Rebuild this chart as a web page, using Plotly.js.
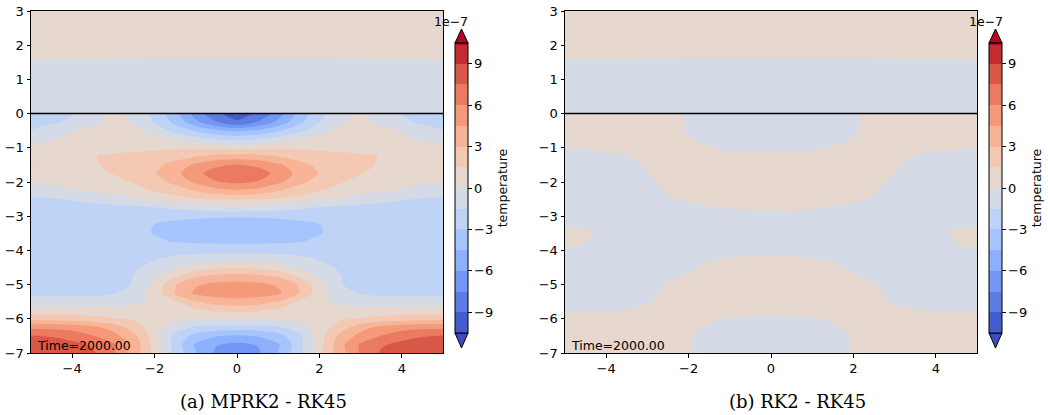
<!DOCTYPE html>
<html><head><meta charset="utf-8">
<script src="https://cdn.plot.ly/plotly-3.0.1.min.js"></script>
<style>html,body{margin:0;padding:0;background:#fff}#chart{width:1048px;height:415px}</style>
</head><body><div id="chart"></div>
<script>
// ---------- data (values in units of 1e-7) ----------
const xGrid = [-5,-4.5,-4,-3.5,-3,-2.5,-2,-1.5,-1,-0.5,0,0.5,1,1.5,2,2.5,3,3.5,4,4.5,5];

// lower layer, panel (a) MPRK2 - RK45, rows from y=0 down to y=-7
const yLowerA = [0,-0.25,-0.5,-0.75,-1,-1.25,-1.5,-1.75,-2,-2.25,-2.5,-2.75,-3,-3.25,-3.5,-3.75,-4,-4.25,-4.5,-4.75,-5,-5.25,-5.5,-5.75,-6,-6.25,-6.5,-6.75,-7];
const mprkLower = [
 [-2.2,-2.0,-1.6,-0.8,0.35,-0.3,-2.0,-4.1,-6.8,-8.8,-9.6,-8.8,-6.8,-4.1,-2.0,-0.3,0.35,-0.8,-1.6,-2.0,-2.2],
 [-2.0,-1.7,-1.2,-0.3,0.4,-0.2,-1.55,-3.4,-5.6,-7.4,-8.8,-7.4,-5.6,-3.4,-1.55,-0.2,0.4,-0.3,-1.2,-1.7,-2.0],
 [-1.45,-0.9,-0.1,0.4,0.7,0.4,-0.6,-1.9,-3.2,-4.2,-4.7,-4.2,-3.2,-1.9,-0.6,0.4,0.7,0.4,-0.1,-0.9,-1.45],
 [-0.3,-0.1,0.4,0.7,0.9,0.9,0.5,-0.1,-0.8,-1.6,-1.9,-1.6,-0.8,-0.1,0.5,0.9,0.9,0.7,0.4,-0.1,-0.3],
 [0.45,0.5,0.7,0.9,1.0,1.2,1.3,1.3,1.3,1.1,0.9,1.1,1.3,1.3,1.3,1.2,1.0,0.9,0.7,0.5,0.45],
 [1.2,1.15,1.25,1.45,1.7,1.8,1.9,2.3,2.9,3.5,3.7,3.5,2.9,2.3,1.9,1.8,1.7,1.45,1.25,1.15,1.2],
 [1.55,1.4,1.3,1.4,1.7,2.0,2.6,3.6,4.8,5.7,6.1,5.7,4.8,3.6,2.6,2.0,1.7,1.4,1.3,1.4,1.55],
 [0.9,0.9,1.0,1.2,1.55,2.1,2.9,4.1,5.5,6.8,7.2,6.8,5.5,4.1,2.9,2.1,1.55,1.2,1.0,0.9,0.9],
 [0.15,0.2,0.4,0.7,1.1,1.6,2.4,3.4,4.8,5.9,6.3,5.9,4.8,3.4,2.4,1.6,1.1,0.7,0.4,0.2,0.15],
 [-0.8,-0.5,-0.1,0.15,0.5,1.0,1.6,2.3,3.1,4.0,4.3,4.0,3.1,2.3,1.6,1.0,0.5,0.15,-0.1,-0.5,-0.8],
 [-1.8,-1.6,-1.3,-0.9,-0.5,-0.1,0.4,0.9,1.4,1.6,1.7,1.6,1.4,0.9,0.4,-0.1,-0.5,-0.9,-1.3,-1.6,-1.8],
 [-2.3,-2.3,-2.3,-2.2,-2.1,-1.9,-1.6,-1.2,-0.8,-0.5,-0.4,-0.5,-0.8,-1.2,-1.6,-1.9,-2.1,-2.2,-2.3,-2.3,-2.3],
 [-2.3,-2.3,-2.3,-2.3,-2.35,-2.4,-2.55,-2.7,-2.8,-2.88,-2.9,-2.88,-2.8,-2.7,-2.55,-2.4,-2.35,-2.3,-2.3,-2.3,-2.3],
 [-2.3,-2.3,-2.35,-2.4,-2.5,-2.78,-3.02,-3.3,-3.47,-3.57,-3.6,-3.57,-3.47,-3.3,-3.02,-2.78,-2.5,-2.4,-2.35,-2.3,-2.3],
 [-2.3,-2.3,-2.35,-2.4,-2.55,-2.8,-3.04,-3.4,-3.58,-3.67,-3.7,-3.67,-3.58,-3.4,-3.04,-2.8,-2.55,-2.4,-2.35,-2.3,-2.3],
 [-2.3,-2.3,-2.35,-2.4,-2.5,-2.65,-2.85,-3.05,-3.2,-3.27,-3.3,-3.27,-3.2,-3.05,-2.85,-2.65,-2.5,-2.4,-2.35,-2.3,-2.3],
 [-2.3,-2.3,-2.3,-2.35,-2.35,-2.3,-2.2,-2.1,-2.05,-2.0,-2.0,-2.0,-2.05,-2.1,-2.2,-2.3,-2.35,-2.35,-2.3,-2.3,-2.3],
 [-2.3,-2.3,-2.3,-2.3,-2.25,-2.0,-1.6,-1.1,-0.8,-0.65,-0.6,-0.65,-0.8,-1.1,-1.6,-2.0,-2.25,-2.3,-2.3,-2.3,-2.3],
 [-2.3,-2.3,-2.3,-2.3,-2.1,-1.65,-1.1,-0.3,0.6,1.2,1.4,1.2,0.6,-0.3,-1.1,-1.65,-2.1,-2.3,-2.3,-2.3,-2.3],
 [-2.3,-2.3,-2.3,-2.3,-2.1,-1.45,-0.2,1.2,2.8,3.3,3.5,3.3,2.8,1.2,-0.2,-1.45,-2.1,-2.3,-2.3,-2.3,-2.3],
 [-2.3,-2.3,-2.3,-2.3,-2.1,-1.4,0.4,2.9,4.3,4.9,5.0,4.9,4.3,2.9,0.4,-1.4,-2.1,-2.3,-2.3,-2.3,-2.3],
 [-1.9,-1.9,-1.9,-1.95,-1.6,-0.8,0.6,3.1,4.8,5.15,5.3,5.15,4.8,3.1,0.6,-0.8,-1.6,-1.95,-1.9,-1.9,-1.9],
 [-0.8,-0.8,-0.75,-0.7,-0.6,-0.3,0.3,1.2,2.9,3.75,4.0,3.75,2.9,1.2,0.3,-0.3,-0.6,-0.7,-0.75,-0.8,-0.8],
 [0.6,0.6,0.6,0.6,0.6,0.55,0.5,0.7,1.25,1.7,1.9,1.7,1.25,0.7,0.5,0.55,0.6,0.6,0.6,0.6,0.6],
 [2.6,2.5,2.3,2.0,1.6,1.3,0.9,0.5,0.3,0.2,0.2,0.2,0.3,0.5,0.9,1.3,1.6,2.0,2.3,2.5,2.6],
 [5.6,5.6,5.4,4.9,3.9,2.2,0.6,-0.8,-1.7,-2.1,-2.2,-2.1,-1.7,-0.8,0.6,2.2,3.9,4.9,5.4,5.6,5.6],
 [7.6,7.4,6.9,6.05,5.0,3.4,0.8,-1.9,-3.6,-4.4,-4.7,-4.4,-3.6,-1.9,0.8,3.4,5.0,6.05,6.9,7.4,7.6],
 [8.1,8.1,7.9,7.3,6.2,4.0,0.9,-2.1,-4.7,-5.9,-6.35,-5.9,-4.7,-2.1,0.9,4.0,6.2,7.3,7.9,8.1,8.1],
 [8.4,8.5,8.3,7.7,6.2,3.8,1.1,-1.9,-4.45,-6.3,-6.9,-6.3,-4.45,-1.9,1.1,3.8,6.2,7.7,8.3,8.5,8.4]
];

// lower layer, panel (b) RK2 - RK45, rows from y=0 down to y=-7
const yLowerB = [0,-0.5,-1,-1.5,-2,-2.5,-3,-3.5,-4,-4.5,-5,-5.5,-6,-6.5,-7];
const rk2Lower = [
 [0.6,0.6,0.6,0.6,0.6,0.4,-0.15,-0.5,-0.6,-0.6,-0.6,-0.6,-0.6,-0.5,-0.15,0.4,0.6,0.6,0.6,0.6,0.6],
 [0.35,0.35,0.4,0.45,0.5,0.4,-0.12,-0.45,-0.55,-0.55,-0.55,-0.55,-0.55,-0.45,-0.12,0.4,0.5,0.45,0.4,0.35,0.35],
 [0.05,0.05,0.1,0.2,0.35,0.4,0.25,0.05,-0.08,-0.1,-0.1,-0.1,-0.08,0.05,0.25,0.4,0.35,0.2,0.1,0.05,0.05],
 [-0.4,-0.4,-0.35,-0.2,0.1,0.3,0.4,0.4,0.4,0.4,0.4,0.4,0.4,0.4,0.4,0.3,0.1,-0.2,-0.35,-0.4,-0.4],
 [-0.4,-0.4,-0.4,-0.3,-0.1,0.15,0.3,0.35,0.4,0.4,0.4,0.4,0.4,0.35,0.3,0.15,-0.1,-0.3,-0.4,-0.4,-0.4],
 [-0.4,-0.4,-0.4,-0.35,-0.2,-0.05,0.07,0.15,0.2,0.25,0.25,0.25,0.2,0.15,0.07,-0.05,-0.2,-0.35,-0.4,-0.4,-0.4],
 [-0.25,-0.25,-0.3,-0.35,-0.4,-0.35,-0.3,-0.2,-0.15,-0.1,-0.1,-0.1,-0.15,-0.2,-0.3,-0.35,-0.4,-0.35,-0.3,-0.25,-0.25],
 [0.15,0.1,-0.15,-0.3,-0.35,-0.4,-0.4,-0.4,-0.4,-0.4,-0.4,-0.4,-0.4,-0.4,-0.4,-0.4,-0.35,-0.3,-0.15,0.1,0.15],
 [-0.02,-0.08,-0.3,-0.35,-0.4,-0.35,-0.3,-0.25,-0.2,-0.15,-0.15,-0.15,-0.2,-0.25,-0.3,-0.35,-0.4,-0.35,-0.3,-0.08,-0.02],
 [-0.3,-0.35,-0.4,-0.4,-0.4,-0.3,-0.1,0.12,0.25,0.3,0.3,0.3,0.25,0.12,-0.1,-0.3,-0.4,-0.4,-0.4,-0.35,-0.3],
 [-0.4,-0.4,-0.4,-0.35,-0.25,0.03,0.2,0.35,0.4,0.4,0.4,0.4,0.4,0.35,0.2,0.03,-0.25,-0.35,-0.4,-0.4,-0.4],
 [-0.25,-0.25,-0.25,-0.2,-0.05,0.2,0.3,0.35,0.35,0.3,0.3,0.3,0.35,0.35,0.3,0.2,-0.05,-0.2,-0.25,-0.25,-0.25],
 [0.15,0.15,0.2,0.25,0.3,0.3,0.25,0.1,-0.03,-0.05,-0.05,-0.05,-0.03,0.1,0.25,0.3,0.3,0.25,0.2,0.15,0.15],
 [0.45,0.45,0.45,0.45,0.45,0.35,0.06,-0.25,-0.35,-0.4,-0.4,-0.4,-0.35,-0.25,0.06,0.35,0.45,0.45,0.45,0.45,0.45],
 [0.5,0.5,0.5,0.5,0.5,0.4,0.06,-0.3,-0.45,-0.5,-0.5,-0.5,-0.45,-0.3,0.06,0.4,0.5,0.5,0.5,0.5,0.5]
];

// upper layer (same in both panels), rows from y=0 up to y=3
const xUpper = [-5,-2.5,0,2.5,5];
const yUpper = [0,1.5,1.7,3];
const upperField = [
 [-0.6,-0.6,-0.6,-0.6,-0.6],
 [-0.35,-0.5,-0.65,-0.5,-0.35],
 [0.65,0.5,0.35,0.5,0.65],
 [0.6,0.6,0.6,0.6,0.6]
];

const levelStart = -10.5, levelEnd = 10.5, levelStep = 1.5;
const cbTicks = [-9,-6,-3,0,3,6,9];
const xTicks = [-4,-2,0,2,4];
const yTicks = [-7,-6,-5,-4,-3,-2,-1,0,1,2,3];
const captions = ['(a) MPRK2 - RK45', '(b) RK2 - RK45'];
const timeLabel = 'Time=2000.00';
const cbLabel = 'temperature';
const cbExponent = '1e\u22127';

// ---------- style ----------
const coolwarm = [
 [0,'rgb(59,76,192)'],[0.03125,'rgb(68,90,204)'],[0.0625,'rgb(77,104,215)'],[0.09375,'rgb(87,117,225)'],
 [0.125,'rgb(98,130,234)'],[0.15625,'rgb(108,142,241)'],[0.1875,'rgb(119,154,247)'],[0.21875,'rgb(130,165,251)'],
 [0.25,'rgb(141,176,254)'],[0.28125,'rgb(152,185,255)'],[0.3125,'rgb(163,194,255)'],[0.34375,'rgb(174,201,253)'],
 [0.375,'rgb(184,208,249)'],[0.40625,'rgb(194,213,244)'],[0.4375,'rgb(204,217,238)'],[0.46875,'rgb(213,219,230)'],
 [0.5,'rgb(221,221,221)'],[0.53125,'rgb(229,216,209)'],[0.5625,'rgb(236,211,197)'],[0.59375,'rgb(241,204,185)'],
 [0.625,'rgb(245,196,173)'],[0.65625,'rgb(247,187,160)'],[0.6875,'rgb(247,177,148)'],[0.71875,'rgb(247,166,135)'],
 [0.75,'rgb(244,154,123)'],[0.78125,'rgb(241,141,111)'],[0.8125,'rgb(236,127,99)'],[0.84375,'rgb(229,112,88)'],
 [0.875,'rgb(222,96,77)'],[0.90625,'rgb(213,80,66)'],[0.9375,'rgb(203,62,56)'],[0.96875,'rgb(192,40,47)'],
 [1,'rgb(180,4,38)']
];
const W = 1048, H = 415;
const fx = v => v / W;
const fy = v => 1 - v / H;
const FONT = 'DejaVu Sans';
const TICKSIZE = 13;

const asc = a => a.slice().reverse();

function fieldTrace(x, y, z, xa, ya, cbLeftPx) {
  const t = {
    type: 'contour', x: x, y: y, z: z, xaxis: xa, yaxis: ya,
    zmin: levelStart, zmax: levelEnd, autocontour: false,
    contours: {start: levelStart, end: levelEnd, size: levelStep, coloring: 'fill', showlines: false},
    colorscale: coolwarm,
    line: {width: 0, smoothing: 0.85},
    hoverinfo: 'skip',
    showscale: cbLeftPx !== null
  };
  if (cbLeftPx !== null) {
    t.colorbar = {
      x: fx(cbLeftPx), xanchor: 'left', xpad: 0,
      y: fy(188), yanchor: 'middle', ypad: 0,
      len: 290, lenmode: 'pixels', thickness: 13, thicknessmode: 'pixels',
      outlinewidth: 1, outlinecolor: '#000',
      tickvals: cbTicks, ticks: 'outside', ticklen: 3.5, tickwidth: 1, tickcolor: '#000',
      tickfont: {family: FONT, size: TICKSIZE, color: '#000'},
      title: {text: cbLabel, side: 'right', font: {family: FONT, size: 12.5, color: '#000'}}
    };
  }
  return t;
}

const traces = [
  fieldTrace(xGrid, asc(yLowerA), asc(mprkLower), 'x', 'y', 455),
  fieldTrace(xUpper, yUpper, upperField, 'x', 'y', null),
  fieldTrace(xGrid, asc(yLowerB), asc(rk2Lower), 'x2', 'y2', 989),
  fieldTrace(xUpper, yUpper, upperField, 'x2', 'y2', null)
];

const axisStyle = {
  showgrid: false, zeroline: false, showline: true, mirror: true,
  linecolor: '#000', linewidth: 1, ticks: 'outside', ticklen: 3.5, tickwidth: 1, tickcolor: '#000',
  tickfont: {family: FONT, size: TICKSIZE, color: '#000'}
};

function tri(leftPx, baseY, apexY, color) {
  const l = fx(leftPx), r = fx(leftPx + 13), m = fx(leftPx + 6.5);
  return {type: 'path', xref: 'paper', yref: 'paper', layer: 'above',
    path: `M${l},${fy(baseY)} L${r},${fy(baseY)} L${m},${fy(apexY)} Z`,
    fillcolor: color, line: {color: '#000', width: 1}};
}

const layout = {
  width: W, height: H, margin: {l: 0, r: 0, t: 0, b: 0},
  paper_bgcolor: '#fff', plot_bgcolor: '#fff', showlegend: false,
  font: {family: FONT, size: 12, color: '#000'},
  xaxis: Object.assign({domain: [fx(31), fx(443)], anchor: 'y', range: [-5, 5], tickvals: xTicks}, axisStyle),
  yaxis: Object.assign({domain: [fy(353), fy(11)], anchor: 'x', range: [-7, 3], tickvals: yTicks}, axisStyle),
  xaxis2: Object.assign({domain: [fx(565), fx(977)], anchor: 'y2', range: [-5, 5], tickvals: xTicks}, axisStyle),
  yaxis2: Object.assign({domain: [fy(353), fy(11)], anchor: 'x2', range: [-7, 3], tickvals: yTicks}, axisStyle),
  shapes: [
    {type: 'line', xref: 'x domain', yref: 'y', x0: 0, x1: 1, y0: 0, y1: 0, line: {color: '#000', width: 1.5}},
    {type: 'line', xref: 'x2 domain', yref: 'y2', x0: 0, x1: 1, y0: 0, y1: 0, line: {color: '#000', width: 1.5}},
    tri(455, 43, 29, 'rgb(180,4,38)'), tri(455, 333, 348, 'rgb(59,76,192)'),
    tri(989, 43, 29, 'rgb(180,4,38)'), tri(989, 333, 348, 'rgb(59,76,192)')
  ],
  annotations: [
    {xref: 'x', yref: 'y', x: -4.9, y: -6.77, xanchor: 'left', yanchor: 'middle', showarrow: false,
     text: timeLabel, font: {family: FONT, size: 12.5, color: '#000'}},
    {xref: 'x2', yref: 'y2', x: -4.9, y: -6.77, xanchor: 'left', yanchor: 'middle', showarrow: false,
     text: timeLabel, font: {family: FONT, size: 12.5, color: '#000'}},
    {xref: 'paper', yref: 'paper', x: fx(451), y: fy(22), xanchor: 'center', yanchor: 'middle', showarrow: false,
     text: cbExponent, font: {family: FONT, size: 12.5, color: '#000'}},
    {xref: 'paper', yref: 'paper', x: fx(986), y: fy(22), xanchor: 'center', yanchor: 'middle', showarrow: false,
     text: cbExponent, font: {family: FONT, size: 12.5, color: '#000'}},
    {xref: 'paper', yref: 'paper', x: fx(263), y: fy(401), xanchor: 'center', yanchor: 'middle', showarrow: false,
     text: captions[0], font: {family: 'DejaVu Serif', size: 18, color: '#000'}},
    {xref: 'paper', yref: 'paper', x: fx(797), y: fy(401), xanchor: 'center', yanchor: 'middle', showarrow: false,
     text: captions[1], font: {family: 'DejaVu Serif', size: 18, color: '#000'}}
  ]
};

Plotly.newPlot('chart', traces, layout, {staticPlot: true, displayModeBar: false});
</script>
</body></html>
